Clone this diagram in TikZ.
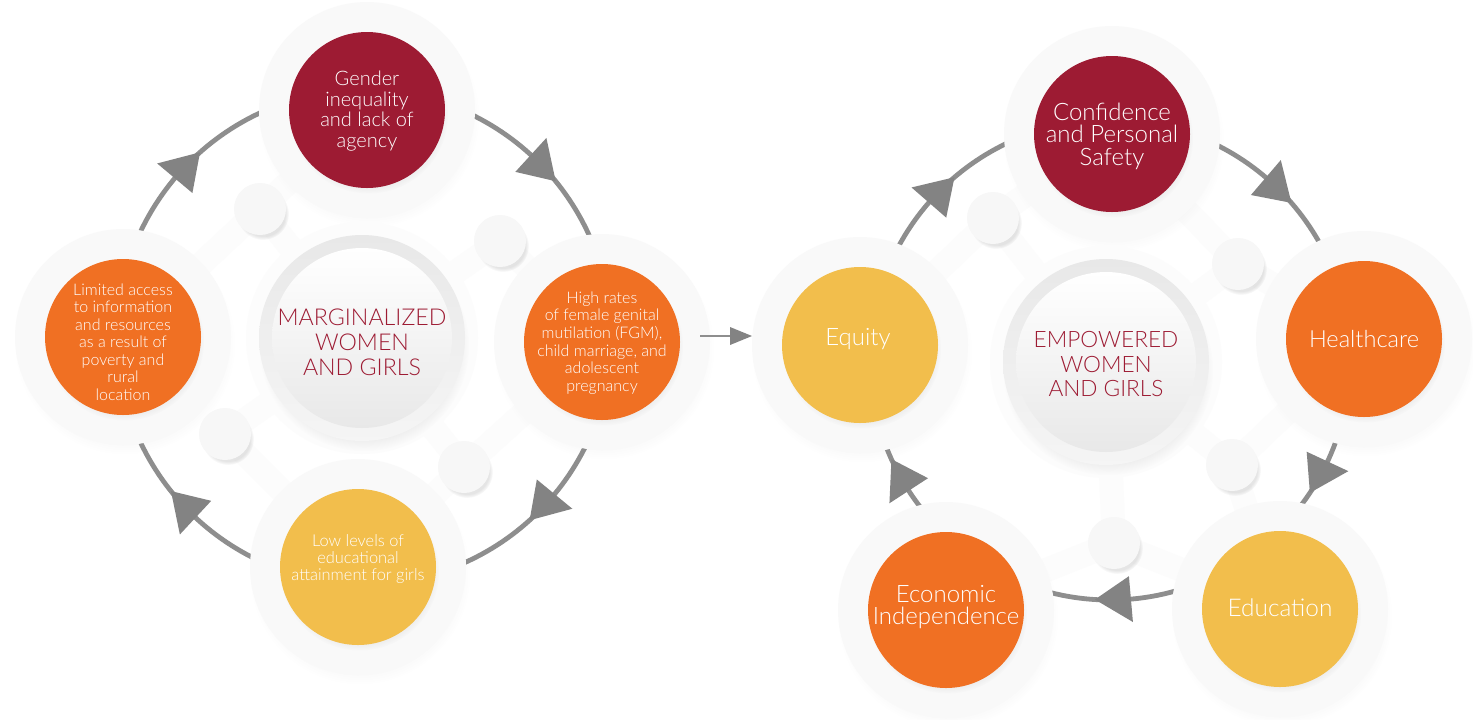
\documentclass[tikz,border=0pt]{standalone}
\usepackage{fontspec}
\setmainfont{Lato}
\newfontfamily\lightfont{Lato Light}
\usetikzlibrary{calc,shadows,fadings}
\definecolor{cMaroon}{HTML}{9D1B33}
\definecolor{cOrange}{HTML}{F07023}
\definecolor{cYellow}{HTML}{F2BE4C}
\definecolor{haloc}{HTML}{F9F9F9}
\definecolor{bubblec}{HTML}{F7F7F7}
\definecolor{neckc}{HTML}{FCFCFC}
\definecolor{ringc}{HTML}{8E8E8E}
\definecolor{arrowc}{HTML}{838383}
\newcommand\setfs[2]{\fontsize{#1pt}{#2pt}\selectfont\lightfont}
\begin{document}
\begin{tikzpicture}[x=0.5pt,y=-0.5pt,
  halo/.style={circle, fill=haloc, minimum size=108pt, inner sep=0pt,
    circular drop shadow={shadow xshift=1pt, shadow yshift=-3.5pt, opacity=0.06, shadow scale=1.02}},
  bubble/.style={circle, fill=bubblec, minimum size=26pt, inner sep=0pt,
    circular drop shadow={shadow xshift=1.5pt, shadow yshift=-2.5pt, opacity=0.2, shadow scale=1.0}},
  dot/.style={circle, minimum size=78pt, inner sep=0pt,
    circular drop shadow={shadow xshift=0.8pt, shadow yshift=-2pt, opacity=0.16, shadow scale=1.02}},
  cout/.style={circle, minimum size=103pt, inner sep=0pt, top color=black!9, bottom color=black!4,
    circular drop shadow={shadow xshift=1pt, shadow yshift=-4pt, opacity=0.14, shadow scale=1.02}},
  cin/.style={circle, minimum size=90pt, inner sep=0pt, top color=white, bottom color=black!9},
  wtxt/.style={text=white, align=center, inner sep=0pt},
  mtxt/.style={text=cMaroon, align=center, inner sep=0pt},
  ringline/.style={draw=ringc, line width=2.4pt},
  neck/.style={draw=neckc, line width=12pt, line cap=round}
]
\useasboundingbox[fill=white] (0,0) rectangle (1473,719);

% ---------- positions ----------
\coordinate (L) at (364,337);
\coordinate (R) at (1110,360);
\coordinate (pg) at (367,110);
\coordinate (pl) at (123,337);
\coordinate (ph) at (602,342);
\coordinate (pw) at (358,567);
\coordinate (pm) at (362,338);
\coordinate (pc) at (1112,134);
\coordinate (pe) at (1364,339);
\coordinate (pq) at (860,345);
\coordinate (pn) at (946,610);
\coordinate (pd) at (1280,609);
\coordinate (pp) at (1106,362);
\coordinate (cb1) at (260,209);
\coordinate (cb2) at (500,241);
\coordinate (cb3) at (225,434);
\coordinate (cb4) at (464,467);
\coordinate (cb5) at (993,218);
\coordinate (cb6) at (1238,264);
\coordinate (cb7) at (1232,465);
\coordinate (cb8) at (1114,543);

% ---------- necks ----------
\foreach \b/\h in {cb1/pg,cb1/pl,cb2/ph,cb3/pw,cb4/pw,cb4/ph}{\draw[neck] (\b) -- (\h);}
\foreach \b in {cb1,cb2,cb3,cb4}{\draw[neck] (\b) -- (pm);}
\foreach \b/\h in {cb5/pc,cb5/pq,cb6/pe,cb6/pc,cb7/pd,cb7/pe,cb8/pn,cb8/pd}{\draw[neck] (\b) -- (\h);}
\foreach \b in {cb5,cb6,cb7,cb8}{\draw[neck] (\b) -- (pp);}

% ---------- rings ----------
\draw[ringline] (L) circle[radius=247];
\draw[ringline] (R) circle[radius=240];

% ---------- halos ----------
\foreach \p in {pg,pl,ph,pw,pc,pe,pq,pn,pd}{\node[halo] at (\p) {};}
\node[circle, fill=neckc, minimum size=116pt] at (pm) {};
\node[circle, fill=neckc, minimum size=116pt] at (pp) {};

% ---------- bubbles ----------
\foreach \i in {1,...,8}{\node[bubble] (b\i) at (cb\i) {};}

% ---------- centres ----------
\node[cout] (mo) at (pm) {};
\node[cin] (mi) at (pm) {};
\node[mtxt, font=\setfs{11.6}{12.5}] (mt) at (362,342) {MARGINALIZED\\WOMEN\\AND GIRLS};
\node[cout] (po) at (pp) {};
\node[cin] (pi) at (pp) {};
\node[mtxt, font=\setfs{11.3}{12.4}] (pt) at (1106,364) {EMPOWERED\\WOMEN\\AND GIRLS};

% ---------- coloured circles ----------
\node[dot, fill=cMaroon] (gender) at (pg) {};
\node[wtxt, font=\setfs{10}{10.3}] (gendert) at (367,111) {Gender\\inequality\\and lack of\\agency};
\node[dot, fill=cOrange] (limited) at (pl) {};
\node[wtxt, font=\setfs{8}{8.75}] (limitedt) at (123,342) {Limited access\\to information\\and resources\\as a result of\\poverty and\\rural\\location};
\node[dot, fill=cOrange] (high) at (ph) {};
\node[wtxt, font=\setfs{8}{8.85}] (hight) at (602,343) {High rates\\of female genital\\mutilation (FGM),\\child marriage, and\\adolescent\\pregnancy};
\node[dot, fill=cYellow] (low) at (pw) {};
\node[wtxt, font=\setfs{8.2}{8.7}] (lowt) at (358,559) {Low levels of\\educational\\attainment for girls};

\node[dot, fill=cMaroon] (conf) at (pc) {};
\node[wtxt, font=\setfs{12}{11.2}] (conft) at (1112,136) {Confidence\\and Personal\\Safety};
\node[dot, fill=cOrange] (health) at (pe) {};
\node[wtxt, font=\setfs{11.8}{12}] (healtht) at (1364,339) {Healthcare};
\node[dot, fill=cYellow] (equity) at (pq) {};
\node[wtxt, font=\setfs{12}{12}] (equityt) at (858,339) {Equity};
\node[dot, fill=cOrange] (econ) at (pn) {};
\node[wtxt, font=\setfs{12}{10.6}] (econt) at (946,607) {Economic\\Independence};
\node[dot, fill=cYellow] (educ) at (pd) {};
\node[wtxt, font=\setfs{12.2}{12}] (euct) at (1280,608) {Education};

% ---------- cycle arrowheads ----------
\foreach \a in {220,312.5,39.5,133}{
  \fill[arrowc] ($(L)+(\a:224)$) -- ($(L)+(\a:270)$) -- ($(L)+({\a+8.4}:247)$) -- cycle;}
\foreach \a in {221,310.5,25,85,147}{
  \fill[arrowc] ($(R)+(\a:217)$) -- ($(R)+(\a:263)$) -- ($(R)+({\a+8.6}:240)$) -- cycle;}

% ---------- link arrow ----------
\coordinate (ma) at (700,336);
\coordinate (mb) at (731,336);
\draw[ringc, line width=1.4pt] (ma) -- (mb);
\fill[arrowc] (730,327) -- (752,336) -- (730,345) -- cycle;
\end{tikzpicture}
\end{document}
